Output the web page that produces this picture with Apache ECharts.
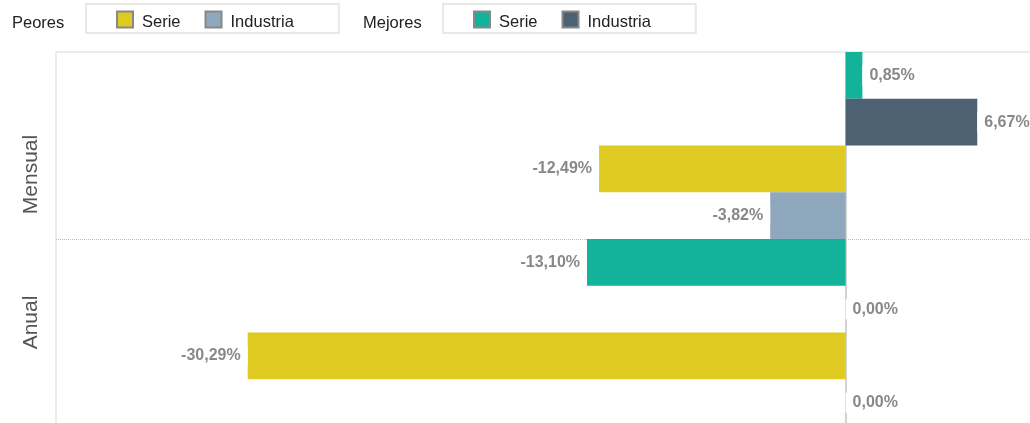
<!DOCTYPE html>
<html>
<head>
<meta charset="utf-8">
<script src="https://cdn.jsdelivr.net/npm/echarts@6/dist/echarts.min.js"></script>
<style>
  html, body { margin: 0; padding: 0; background: #fff; overflow: hidden; }
  /* chart runs a little past the window on the right and bottom, like the original */
  #chart { width: 1043px; height: 426px; }
</style>
</head>
<body>
<div id="chart"></div>
<script>
// periods shown on the vertical axis
const periods = ['Mensual', 'Anual'];

// % change per period
const mejoresSerie = [0.85, -13.10];
const mejoresIndustria = [6.67, 0.00];
const peoresSerie = [-12.49, -30.29];
const peoresIndustria = [-3.82, 0.00];

const colors = {
  'Mejores Serie': '#12b29b',
  'Mejores Industria': '#4d6173',
  'Peores Serie': '#dfca21',
  'Peores Industria': '#8fa8bd'
};

const FONT = 'Liberation Sans, Arial, sans-serif';
const fmt = v => v.toFixed(2).replace('.', ',') + '%';

function barSeries(name, values) {
  return {
    name: name,
    type: 'bar',
    barGap: '0%',
    barCategoryGap: '0%',
    itemStyle: { color: colors[name] },
    data: values.map(v => ({
      value: v,
      label: { position: v < 0 ? 'left' : 'right' }
    })),
    label: {
      show: true,
      distance: 0,
      padding: [2, 7, 2, 7],
      backgroundColor: '#fff',
      color: '#888',
      fontWeight: 'bold',
      fontSize: 16,
      fontFamily: FONT,
      formatter: p => fmt(p.value)
    }
  };
}

const legendBase = {
  orient: 'horizontal',
  top: 4,
  padding: [4, 45, 2, 30],
  borderColor: '#e8e8e8',
  borderWidth: 2,
  itemWidth: 16,
  itemHeight: 16,
  itemGap: 24,
  icon: 'rect',
  itemStyle: { borderColor: '#888', borderWidth: 2 },
  textStyle: {
    color: '#222',
    fontFamily: FONT,
    rich: {
      t: { fontSize: 16.5, lineHeight: 18, color: '#222', fontFamily: FONT, padding: [6, 0, 0, 4] }
    }
  },
  formatter: name => '{t|' + name.split(' ')[1] + '}'
};

const chart = echarts.init(document.getElementById('chart'));

const series = [
  barSeries('Mejores Serie', mejoresSerie),
  barSeries('Mejores Industria', mejoresIndustria),
  barSeries('Peores Serie', peoresSerie),
  barSeries('Peores Industria', peoresIndustria)
];
// zero reference line
series[0].markLine = {
  silent: true,
  symbol: 'none',
  label: { show: false },
  lineStyle: { color: '#d2d2d2', width: 2, type: 'solid' },
  data: [{ xAxis: 0 }],
  z: 1
};

chart.setOption({
  animation: false,
  textStyle: { fontFamily: FONT },
  graphic: [
    { type: 'text', left: 12, top: 15, style: { text: 'Peores', fontSize: 16.5, fill: '#222', fontFamily: FONT } },
    { type: 'text', left: 363, top: 15, style: { text: 'Mejores', fontSize: 16.5, fill: '#222', fontFamily: FONT } }
  ],
  legend: [
    Object.assign({}, legendBase, { left: 86, data: ['Peores Serie', 'Peores Industria'] }),
    Object.assign({}, legendBase, { left: 443, data: ['Mejores Serie', 'Mejores Industria'] })
  ],
  grid: {
    left: 56,
    top: 52,
    width: 987,
    height: 374,
    show: true,
    borderColor: '#ececec',
    borderWidth: 2,
    containLabel: false
  },
  xAxis: {
    type: 'value',
    min: -40,
    max: 10,
    axisLine: { show: false },
    axisTick: { show: false },
    axisLabel: { show: false },
    splitLine: { show: false }
  },
  yAxis: {
    type: 'category',
    inverse: true,
    data: periods,
    axisLine: { show: false },
    axisTick: { show: false },
    axisLabel: {
      rotate: 90,
      margin: 14,
      fontSize: 21,
      color: '#555',
      formatter: v => v === 'Mensual' ? '{m|' + v + '}' : '{a|' + v + '}',
      rich: {
        m: { fontSize: 21, color: '#555', padding: [0, 58, 0, 0] },
        a: { fontSize: 21, color: '#555', padding: [0, 0, 0, 20] }
      }
    },
    // only the divider between the two periods is drawn
    splitLine: { show: true, lineStyle: { color: ['rgba(0,0,0,0)', '#bbb'], type: 'dotted', width: 1 } }
  },
  series: series
});
</script>
</body>
</html>
